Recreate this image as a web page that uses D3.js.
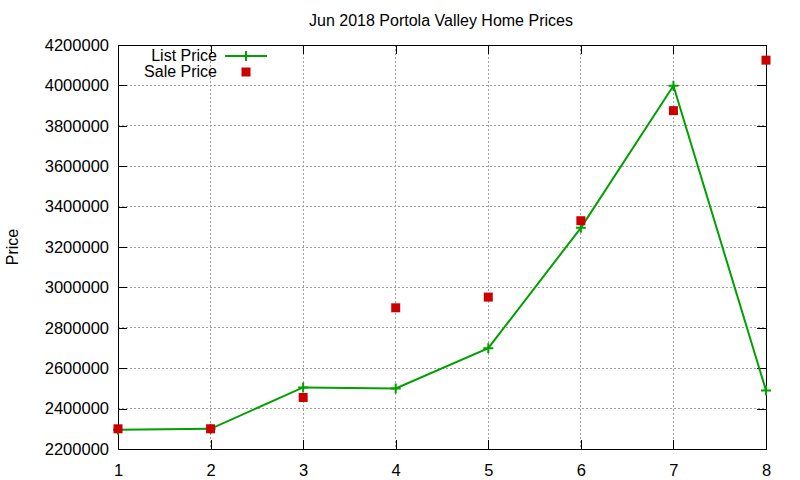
<!DOCTYPE html>
<html><head><meta charset="utf-8">
<script src="https://cdn.jsdelivr.net/npm/d3@7"></script>
<style>body{margin:0;background:#fff}svg{display:block}text{font-family:"Liberation Sans",Arial,sans-serif;fill:#000}</style>
</head><body><svg id="c" width="800" height="480"></svg>
<script>
const xValues = [1, 2, 3, 4, 5, 6, 7, 8];
const listPrice = [2295000, 2300000, 2505000, 2500000, 2699000, 3295000, 3998000, 2490000];
const salePrice = [2300000, 2300000, 2455000, 2899000, 2952000, 3330000, 3875000, 4125000];
const yTicks = [2200000, 2400000, 2600000, 2800000, 3000000, 3200000, 3400000, 3600000, 3800000, 4000000, 4200000];
const xTicks = [1, 2, 3, 4, 5, 6, 7, 8];

const svg = d3.select("#c");
const L = 118, R = 766, T = 45, B = 449;
const x = d3.scaleLinear().domain([1, 8]).range([L, R]);
const y = d3.scaleLinear().domain([2200000, 4200000]).range([B, T]);

// grid
const g = svg.append("g");
g.selectAll("line.gx").data(xTicks.slice(1, -1)).enter().append("line")
  .attr("x1", d => x(d)).attr("x2", d => x(d)).attr("y1", T).attr("y2", B)
  .attr("stroke", "#a0a0a0").attr("stroke-dasharray", "2,2").attr("shape-rendering", "crispEdges");
g.selectAll("line.gy").data(yTicks.slice(1, -1)).enter().append("line")
  .attr("x1", L).attr("x2", R).attr("y1", d => y(d)).attr("y2", d => y(d))
  .attr("stroke", "#a0a0a0").attr("stroke-dasharray", "2,2").attr("shape-rendering", "crispEdges");

// axes
const yAxis = d3.axisLeft(y).tickValues(yTicks).tickFormat(d3.format("d")).tickSize(-9).tickPadding(9);
const yAxisR = d3.axisRight(y).tickValues(yTicks).tickFormat("").tickSize(-9);
const xAxis = d3.axisBottom(x).tickValues(xTicks).tickFormat(d3.format("d")).tickSize(-9).tickPadding(15);
const xAxisT = d3.axisTop(x).tickValues(xTicks).tickFormat("").tickSize(-9);
function style(sel){
  sel.select(".domain").remove();
  sel.selectAll("line").attr("stroke","#000").attr("shape-rendering","crispEdges");
  sel.selectAll("text").attr("font-size","16.5px").attr("font-family","Liberation Sans, Arial, sans-serif").attr("fill","#000");
}
svg.append("g").attr("transform",`translate(${L},0)`).call(yAxis).call(style);
svg.append("g").attr("transform",`translate(${R},0)`).call(yAxisR).call(style);
svg.append("g").attr("transform",`translate(0,${B})`).call(xAxis).call(style);
svg.append("g").attr("transform",`translate(0,${T})`).call(xAxisT).call(style);

svg.append("rect").attr("x",L).attr("y",T).attr("width",R-L).attr("height",B-T)
  .attr("fill","none").attr("stroke","#000").attr("shape-rendering","crispEdges");

// list price line
const pts = xValues.map((d,i)=>[d, listPrice[i]]);
svg.append("path").datum(pts)
  .attr("d", d3.line().x(d=>x(d[0])).y(d=>y(d[1])))
  .attr("fill","none").attr("stroke","#00a000").attr("stroke-width",2);
svg.append("g").selectAll("path").data(pts).enter().append("path")
  .attr("d", d => `M${x(d[0])-5},${y(d[1])}h10M${x(d[0])},${y(d[1])-5}v10`)
  .attr("stroke","#00a000").attr("stroke-width",2);

// sale price points
svg.append("g").selectAll("rect").data(xValues.map((d,i)=>[d, salePrice[i]])).enter().append("rect")
  .attr("x", d=>x(d[0])-4.5).attr("y", d=>y(d[1])-4.5).attr("width",9).attr("height",9)
  .attr("fill","#cc0000");

// title
svg.append("text").attr("x",(L+R)/2 - 1).attr("y",26).attr("text-anchor","middle")
  .attr("font-size","16px").text("Jun 2018 Portola Valley Home Prices");
// y label
svg.append("text").attr("transform","translate(18,247) rotate(-90)").attr("text-anchor","middle")
  .attr("font-size","16px").text("Price");

// legend
const lg = svg.append("g");
lg.append("text").attr("x",217).attr("y",61).attr("text-anchor","end").attr("font-size","16px").text("List Price");
lg.append("path").attr("d","M225,56h42").attr("stroke","#00a000").attr("stroke-width",2);
lg.append("path").attr("d","M241,56h10M246,51v10").attr("stroke","#00a000").attr("stroke-width",2);
lg.append("text").attr("x",217).attr("y",77).attr("text-anchor","end").attr("font-size","16px").text("Sale Price");
lg.append("rect").attr("x",241.5).attr("y",67.5).attr("width",9).attr("height",9).attr("fill","#cc0000");
</script></body></html>
